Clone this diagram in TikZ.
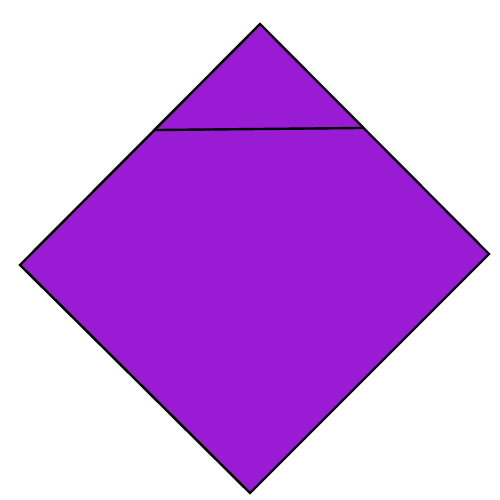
\documentclass[tikz,border=0pt]{standalone}
\usetikzlibrary{calc}
\definecolor{kitepurple}{RGB}{154,27,212}
\tikzset{diamondfill/.style={fill=kitepurple,draw=black,line width=2.4pt,line join=miter},
 crease/.style={draw=black,line width=2.4pt}}
\begin{document}
\begin{tikzpicture}[x=1pt,y=-1pt]
\useasboundingbox (0,0) rectangle (500,500);
\coordinate (T) at (260,24);
\coordinate (R) at (489,254);
\coordinate (B) at (250,493);
\coordinate (L) at (20,265);
\coordinate (A) at ($(T)!0.44!(L)$);
\coordinate (C) at ($(T)!0.452!(R)$);
\path[diamondfill] (T) -- (R) -- (B) -- (L) -- cycle;
\draw[crease] (A) -- (C);
\end{tikzpicture}
\end{document}
